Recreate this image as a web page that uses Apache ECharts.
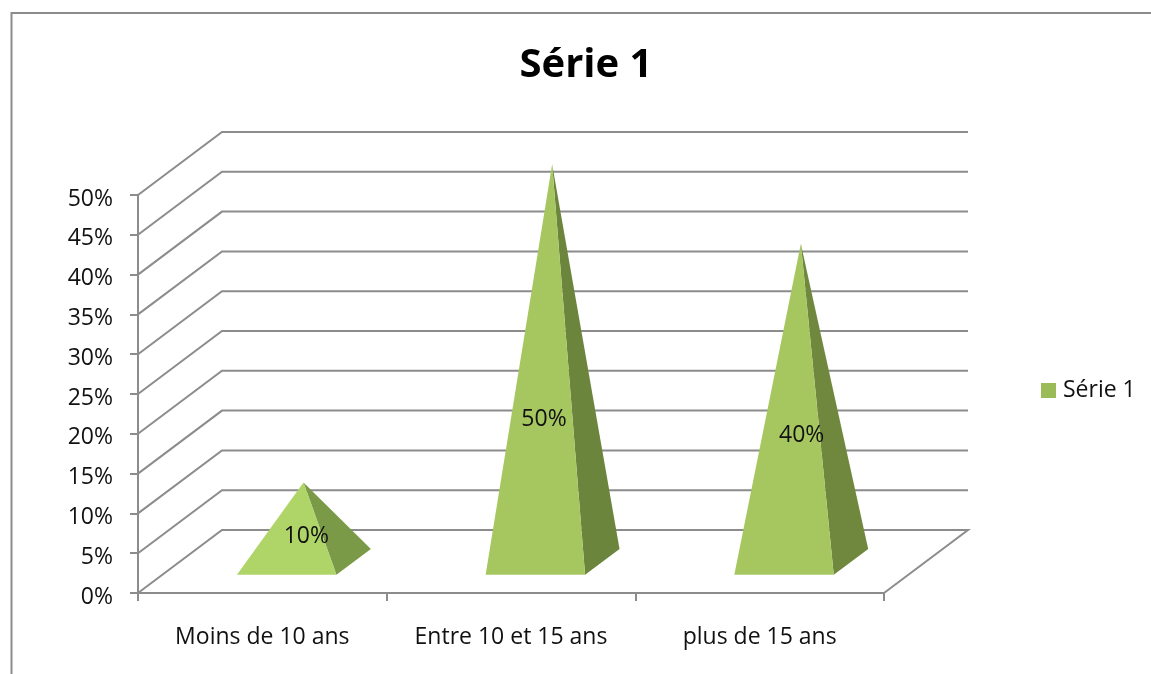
<!DOCTYPE html>
<html>
<head>
<meta charset="utf-8">
<style>
  html, body { margin: 0; padding: 0; background: #fff; }
  #chart { width: 1151px; height: 674px; }
</style>
<script src="https://cdn.jsdelivr.net/npm/echarts@6/dist/echarts.min.js"></script>
</head>
<body>
<div id="chart"></div>
<script>
// data
const categories = ['Moins de 10 ans', 'Entre 10 et 15 ans', 'plus de 15 ans']
const values = [10, 50, 40]
const wallTicks = [0, 5, 10, 15, 20, 25, 30, 35, 40, 45, 50]
const seriesName = 'Série 1'

// look
const FONT = '"Open Sans", sans-serif'
const LINE = '#8c8c8c'
const LEGEND_GREEN = '#9bbb59'
const LIT_FACE = ['#afd468', '#a6c75f', '#a6c75f']
const DARK_FACE = ['#7b9a48', '#6c853c', '#6f883e']

// fake 3D depth of the floor, in px
const DEPTH_X = 84
const DEPTH_Y = -63
const depthAt = f => [DEPTH_X * f, DEPTH_Y * f]

// where Excel put the data labels: [dx from category centre, axis value]
const LABEL_SPOTS = [[44, 7.05], [33, 21.85], [42, 19.75]]

const renderWall = (params, api) => {
  const v = api.value(0)
  const cs = params.coordSys
  const y = api.coord([0, v])[1]
  const left = cs.x
  const right = cs.x + cs.width
  const pts = [[left, y], [left + DEPTH_X, y + DEPTH_Y], [right + DEPTH_X, y + DEPTH_Y]]
  // floor also closes on the right side
  if (v === 0) pts.push([right, y])
  return {
    type: 'polyline',
    shape: { points: pts },
    style: { stroke: LINE, lineWidth: 2, fill: null }
  }
}

const renderPyramid = (params, api) => {
  const i = params.dataIndex
  const pos = api.coord([api.value(0), api.value(1)])
  const zero = api.coord([api.value(0), 0])
  // api.size gives the whole band here
  const halfW = api.size([1, 0])[0] * 0.2

  const near = depthAt(0.29)
  const far = depthAt(0.7)
  const mid = depthAt(0.49)

  const fl = [zero[0] - halfW + near[0], zero[1] + near[1]]
  const fr = [zero[0] + halfW + near[0], zero[1] + near[1]]
  const br = [zero[0] + halfW + far[0], zero[1] + far[1]]
  const apex = [pos[0] + mid[0], pos[1] + mid[1]]

  const spot = LABEL_SPOTS[i]
  const lblY = api.coord([api.value(0), spot[1]])[1]

  return {
    type: 'group',
    children: [
      { type: 'polygon', shape: { points: [fr, br, apex] }, style: { fill: DARK_FACE[i] } },
      { type: 'polygon', shape: { points: [fl, fr, apex] }, style: { fill: LIT_FACE[i] } },
      {
        type: 'text',
        style: {
          x: zero[0] + spot[0],
          y: lblY,
          text: api.value(1) + '%',
          fill: '#111',
          font: '23px ' + FONT,
          align: 'center',
          verticalAlign: 'middle'
        }
      }
    ]
  }
}

const chart = echarts.init(document.getElementById('chart'))

chart.setOption({
  backgroundColor: '#fff',
  animation: false,
  title: {
    text: seriesName,
    left: 586,
    top: 46,
    padding: 0,
    textAlign: 'center',
    textStyle: { fontFamily: FONT, fontSize: 40, fontWeight: 'bold', color: '#000' }
  },
  legend: {
    left: 1041,
    top: 379,
    padding: 0,
    itemWidth: 15,
    itemHeight: 15,
    itemGap: 0,
    data: [{ name: seriesName, icon: 'rect', itemStyle: { color: LEGEND_GREEN } }],
    textStyle: { fontFamily: FONT, fontSize: 23, color: '#111', padding: [6, 0, 0, 2] }
  },
  grid: { left: 138, top: 195, width: 746, height: 398 },
  xAxis: {
    type: 'category',
    data: categories,
    axisLine: { show: true, lineStyle: { color: LINE, width: 2 } },
    axisTick: { show: true, length: 8, lineStyle: { color: LINE, width: 2 } },
    axisLabel: { color: '#111', fontFamily: FONT, fontSize: 23, margin: 33, interval: 0 },
    splitLine: { show: false }
  },
  yAxis: {
    type: 'value',
    min: 0,
    max: 50,
    interval: 5,
    axisLine: { show: true, lineStyle: { color: LINE, width: 2 } },
    axisTick: { show: true, length: 8, lineStyle: { color: LINE, width: 2 } },
    // top align + short line height drops the text a few px below the tick, like the original
    axisLabel: {
      color: '#111', fontFamily: FONT, fontSize: 23, margin: 25,
      verticalAlign: 'top', lineHeight: 8, formatter: '{value}%'
    },
    splitLine: { show: false }
  },
  graphic: [
    {
      // chart frame, runs off the page on the right and at the bottom
      type: 'polyline',
      silent: true,
      shape: { points: [[11.5, 674], [11.5, 13], [1151, 13]] },
      style: { stroke: LINE, lineWidth: 2, fill: null }
    }
  ],
  series: [
    {
      type: 'custom',
      name: 'wall',
      silent: true,
      z: 1,
      clip: false,
      data: wallTicks.map(v => [v]),
      encode: { y: 0 },
      renderItem: renderWall
    },
    {
      type: 'custom',
      name: seriesName,
      z: 3,
      clip: false,
      itemStyle: { color: LEGEND_GREEN },
      data: values.map((v, i) => [i, v]),
      encode: { x: 0, y: 1 },
      renderItem: renderPyramid
    }
  ]
})

window.addEventListener('resize', () => chart.resize())
</script>
</body>
</html>
